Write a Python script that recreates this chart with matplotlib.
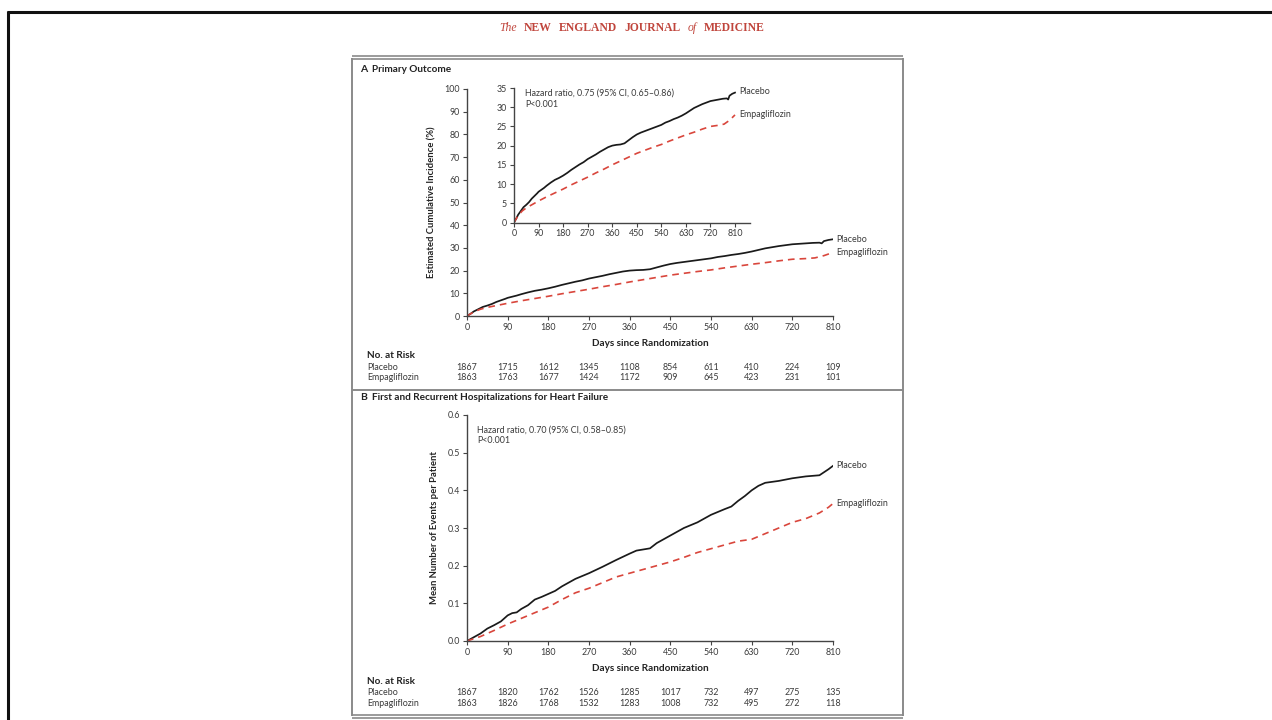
import matplotlib
matplotlib.use("Agg")
import matplotlib.pyplot as plt
from matplotlib.lines import Line2D
from matplotlib.transforms import blended_transform_factory

plt.rcParams['font.family'] = ['Lato', 'DejaVu Sans']

# ---------------- data ----------------
ticks_days = [0, 90, 180, 270, 360, 450, 540, 630, 720, 810]

# Panel A: primary outcome, estimated cumulative incidence (%)
a_days_placebo = [0, 8, 15, 25, 35, 45, 55, 65, 75, 85, 90, 100, 110, 120, 135, 150, 165, 180, 195, 210,
                  225, 240, 255, 270, 285, 300, 315, 330, 345, 360, 375, 390, 405, 420, 435, 450, 465, 480,
                  495, 510, 525, 540, 555, 570, 585, 600, 615, 630, 645, 660, 675, 690, 705, 720, 735, 750,
                  765, 780, 785, 790, 800, 810]
a_placebo = [0, 1.0, 2.0, 3.0, 4.0, 4.6, 5.3, 6.2, 6.9, 7.6, 8.0, 8.5, 9.0, 9.6, 10.4, 11.1, 11.6, 12.2,
             12.9, 13.7, 14.4, 15.1, 15.7, 16.5, 17.1, 17.7, 18.4, 19.0, 19.6, 20.0, 20.2, 20.3, 20.6,
             21.4, 22.2, 22.9, 23.4, 23.8, 24.2, 24.6, 25.0, 25.4, 26.0, 26.4, 26.9, 27.3, 27.8, 28.4,
             29.1, 29.8, 30.3, 30.8, 31.2, 31.6, 31.8, 32.0, 32.2, 32.3, 32.0, 33.0, 33.5, 33.8]
a_days_empa = [0, 15, 30, 45, 60, 90, 120, 150, 180, 210, 240, 270, 300, 330, 360, 390, 420, 450,
               480, 510, 540, 570, 600, 630, 660, 690, 720, 750, 770, 790, 810]
a_empa = [0, 1.8, 3.0, 3.8, 4.4, 5.6, 6.7, 7.7, 8.7, 9.8, 10.8, 11.8, 12.9, 13.9, 15.0, 16.0, 17.0, 18.0,
          18.8, 19.6, 20.3, 21.2, 22.0, 22.8, 23.5, 24.3, 25.0, 25.3, 25.6, 26.6, 28.0]

# Panel B: first and recurrent hospitalizations, mean number of events per patient
b_days_placebo = [0, 15, 30, 45, 60, 75, 90, 100, 110, 120, 135, 150, 165, 180, 195, 210, 240, 270,
                  300, 330, 360, 375, 390, 405, 420, 450, 480, 510, 540, 570, 585, 600, 615, 630, 645,
                  660, 690, 720, 750, 780, 790, 800, 810]
b_placebo = [0, 0.010, 0.020, 0.033, 0.042, 0.052, 0.068, 0.074, 0.076, 0.085, 0.095, 0.110, 0.117,
             0.125, 0.133, 0.145, 0.165, 0.180, 0.197, 0.215, 0.232, 0.240, 0.243, 0.246, 0.260, 0.280,
             0.300, 0.315, 0.335, 0.350, 0.357, 0.372, 0.385, 0.400, 0.412, 0.420, 0.425, 0.432, 0.437,
             0.440, 0.448, 0.456, 0.465]
b_days_empa = [0, 30, 60, 90, 120, 150, 180, 210, 240, 270, 300, 330, 360, 390, 420, 450, 480, 510,
               540, 570, 600, 630, 660, 690, 720, 750, 780, 800, 810]
b_empa = [0, 0.012, 0.028, 0.045, 0.060, 0.075, 0.090, 0.110, 0.128, 0.140, 0.155, 0.170, 0.180, 0.190,
          0.200, 0.210, 0.222, 0.235, 0.245, 0.255, 0.265, 0.270, 0.285, 0.300, 0.315, 0.325, 0.340, 0.355, 0.365]

a_risk_placebo = [1867, 1715, 1612, 1345, 1108, 854, 611, 410, 224, 109]
a_risk_empa = [1863, 1763, 1677, 1424, 1172, 909, 645, 423, 231, 101]
b_risk_placebo = [1867, 1820, 1762, 1526, 1285, 1017, 732, 497, 275, 135]
b_risk_empa = [1863, 1826, 1768, 1532, 1283, 1008, 732, 495, 272, 118]

a_main_yticks = [0, 10, 20, 30, 40, 50, 60, 70, 80, 90, 100]
a_inset_yticks = [0, 5, 10, 15, 20, 25, 30, 35]
b_yticks = [0.0, 0.1, 0.2, 0.3, 0.4, 0.5, 0.6]

# ---------------- layout helpers ----------------
W, H = 1272, 720
fig = plt.figure(figsize=(W / 100, H / 100), dpi=100)
fig.patch.set_facecolor('white')


def fx(px):
    return px / W


def fy(py):
    return 1 - py / H


def add_ax(left, top, right, bottom):
    return fig.add_axes([fx(left), fy(bottom), fx(right) - fx(left), fy(top) - fy(bottom)])


def hline(y, x0, x1, color, lw):
    fig.add_artist(Line2D([fx(x0), fx(x1)], [fy(y), fy(y)], color=color, lw=lw, solid_capstyle='butt'))


def vline(x, y0, y1, color, lw):
    fig.add_artist(Line2D([fx(x), fx(x)], [fy(y0), fy(y1)], color=color, lw=lw, solid_capstyle='butt'))


TXT = '#3a3a3a'
PLAC = '#1a1a1a'
EMPA = '#d9463c'
FS = 6.4


def style_ax(ax):
    for s in ['top', 'right']:
        ax.spines[s].set_visible(False)
    for s in ['left', 'bottom']:
        ax.spines[s].set_color('#444444')
        ax.spines[s].set_linewidth(1.0)
    ax.tick_params(direction='out', length=3, width=0.8, colors='#444444', labelsize=FS,
                   labelcolor=TXT, pad=2)
    ax.set_facecolor('none')


# ---------------- outer page decorations ----------------
hline(11.5, 7, W, '#111111', 2.2)
vline(7.5, 11, H, '#111111', 2.2)

# header
renderer = fig.canvas.get_renderer()
pieces = [("The", 'italic', 'normal'), ("NEW", 'normal', 'bold'), ("ENGLAND", 'normal', 'bold'),
          ("JOURNAL", 'normal', 'bold'), ("of", 'italic', 'normal'), ("MEDICINE", 'normal', 'bold')]
objs = []
for t, st, wt in pieces:
    o = fig.text(0, fy(28), t, family='Liberation Serif', style=st, weight=wt, fontsize=8.4,
                 color='#c0453c', va='center', ha='left')
    objs.append(o)
widths = [o.get_window_extent(renderer).width for o in objs]
total = 266
gap = (total - sum(widths)) / (len(objs) - 1)
x = 632 - total / 2
for o, w in zip(objs, widths):
    o.set_x(fx(x))
    x += w + gap

# panel frame
FL, FR = 352, 903
hline(56, FL, FR, '#8a8a8a', 1.2)
hline(59, FL, FR, '#8a8a8a', 1.2)
vline(FL, 58, 716, '#8a8a8a', 1.4)
vline(FR, 58, 716, '#8a8a8a', 1.4)
hline(390, FL, FR, '#8a8a8a', 1.4)
hline(715, FL, FR, '#8a8a8a', 1.2)
hline(718, FL, FR, '#8a8a8a', 1.2)

# ---------------- Panel A ----------------
fig.text(fx(360), fy(70), "A", fontsize=7.5, weight='bold', color='#222222', va='center')
fig.text(fx(372), fy(70), "Primary Outcome", fontsize=7.2, weight='bold', color='#222222', va='center')

axA = add_ax(467, 89, 833, 316)
style_ax(axA)
axA.plot(a_days_placebo, a_placebo, color=PLAC, lw=1.25)
axA.plot(a_days_empa, a_empa, color=EMPA, lw=1.2, ls=(0, (4, 3)))
axA.set_xlim(0, 810)
axA.set_ylim(0, 100)
axA.set_xticks(ticks_days)
axA.set_yticks(a_main_yticks)
axA.set_xlabel("Days since Randomization", fontsize=7.2, weight='bold', color='#222222', labelpad=5)
axA.set_ylabel("Estimated Cumulative Incidence (%)", fontsize=6.8, weight='bold', color='#222222', labelpad=6)
axA.text(817, a_placebo[-1], "Placebo", fontsize=FS, color=TXT, va='center', ha='left', clip_on=False)
axA.text(817, a_empa[-1], "Empagliflozin", fontsize=FS, color=TXT, va='center', ha='left', clip_on=False)

# inset
axI = add_ax(514, 88, 750, 222.5)
style_ax(axI)
axI.plot(a_days_placebo, a_placebo, color=PLAC, lw=1.25)
axI.plot(a_days_empa, a_empa, color=EMPA, lw=1.2, ls=(0, (4, 3)))
axI.set_xlim(0, 865)
axI.set_ylim(0, 35)
axI.set_xticks(ticks_days)
axI.set_yticks(a_inset_yticks)
axI.text(824, 34.2, "Placebo", fontsize=FS, color=TXT, va='center', ha='left', clip_on=False)
axI.text(824, 28.2, "Empagliflozin", fontsize=FS, color=TXT, va='center', ha='left', clip_on=False)
axI.text(40, 34.8, "Hazard ratio, 0.75 (95% CI, 0.65\u20130.86)\nP<0.001", fontsize=FS, color=TXT,
         va='top', ha='left', linespacing=1.25)

# numbers at risk A
trA = blended_transform_factory(axA.transData, fig.transFigure)
fig.text(fx(367), fy(356), "No. at Risk", fontsize=7.2, weight='bold', color='#222222', va='center')
fig.text(fx(367), fy(367), "Placebo", fontsize=FS, color=TXT, va='center')
fig.text(fx(367), fy(377.5), "Empagliflozin", fontsize=FS, color=TXT, va='center')
for d, p, e in zip(ticks_days, a_risk_placebo, a_risk_empa):
    axA.text(d, fy(367), str(p), transform=trA, fontsize=FS, color=TXT, ha='center', va='center')
    axA.text(d, fy(377.5), str(e), transform=trA, fontsize=FS, color=TXT, ha='center', va='center')

# ---------------- Panel B ----------------
fig.text(fx(360), fy(398), "B", fontsize=7.5, weight='bold', color='#222222', va='center')
fig.text(fx(372), fy(398), "First and Recurrent Hospitalizations for Heart Failure", fontsize=7.2,
         weight='bold', color='#222222', va='center')

axB = add_ax(467, 415, 833, 641)
style_ax(axB)
axB.plot(b_days_placebo, b_placebo, color=PLAC, lw=1.25)
axB.plot(b_days_empa, b_empa, color=EMPA, lw=1.2, ls=(0, (4, 3)))
axB.set_xlim(0, 810)
axB.set_ylim(0, 0.6)
axB.set_xticks(ticks_days)
axB.set_yticks(b_yticks)
axB.set_yticklabels([f"{v:.1f}" for v in b_yticks])
axB.set_xlabel("Days since Randomization", fontsize=7.2, weight='bold', color='#222222', labelpad=5)
axB.set_ylabel("Mean Number of Events per Patient", fontsize=6.8, weight='bold', color='#222222', labelpad=6)
axB.text(817, b_placebo[-1], "Placebo", fontsize=FS, color=TXT, va='center', ha='left', clip_on=False)
axB.text(817, b_empa[-1], "Empagliflozin", fontsize=FS, color=TXT, va='center', ha='left', clip_on=False)
axB.text(22, 0.573, "Hazard ratio, 0.70 (95% CI, 0.58\u20130.85)\nP<0.001", fontsize=FS, color=TXT,
         va='top', ha='left', linespacing=1.25)

trB = blended_transform_factory(axB.transData, fig.transFigure)
fig.text(fx(367), fy(681), "No. at Risk", fontsize=7.2, weight='bold', color='#222222', va='center')
fig.text(fx(367), fy(692.5), "Placebo", fontsize=FS, color=TXT, va='center')
fig.text(fx(367), fy(703), "Empagliflozin", fontsize=FS, color=TXT, va='center')
for d, p, e in zip(ticks_days, b_risk_placebo, b_risk_empa):
    axB.text(d, fy(692.5), str(p), transform=trB, fontsize=FS, color=TXT, ha='center', va='center')
    axB.text(d, fy(703), str(e), transform=trB, fontsize=FS, color=TXT, ha='center', va='center')

fig.savefig("out.png", dpi=100)
